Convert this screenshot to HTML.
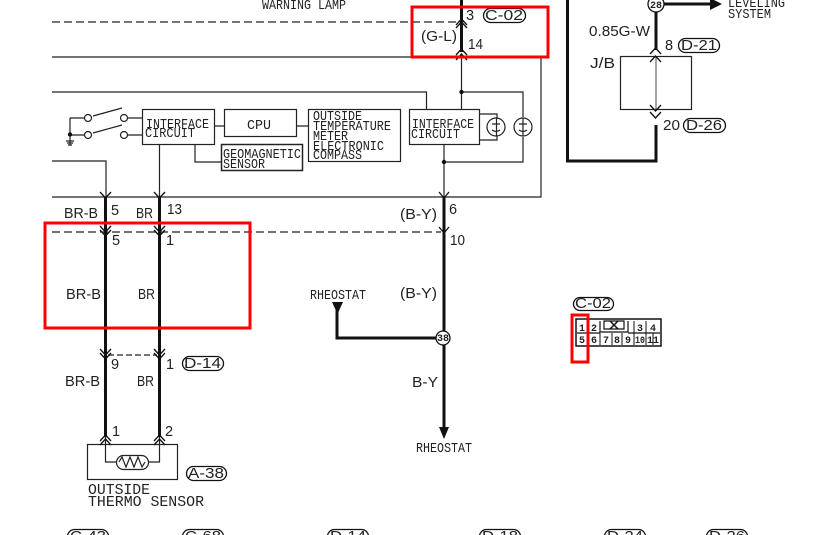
<!DOCTYPE html>
<html><head><meta charset="utf-8"><style>
html,body{margin:0;padding:0;background:#fff;width:823px;height:535px;overflow:hidden}
svg{display:block}
text{font-family:"Liberation Mono",monospace;fill:#222;font-size:15px}
.s{font-family:"Liberation Sans",sans-serif;font-size:14.500px}
.t{font-size:13.500px}
.b{font-size:10px;font-weight:bold}
</style></head><body>
<svg width="823" height="535" viewBox="0 0 823 535" xmlns="http://www.w3.org/2000/svg">
<g fill="none" stroke="#222" stroke-width="1.2">
<path d="M52 22H458" stroke-dasharray="8 4"/>
<path d="M52 232H441" stroke-dasharray="8 4"/>
<path d="M108 355H157" stroke-dasharray="6 3"/>
<path d="M52 57H461M52 92H426.500V109M52 161H106V197M52 197H541V57H461"/>
<path d="M159.500 144V197M195 144V162H221M214 126H224M296 126H308M444 144V197"/>
<path d="M461.500 55V109M461.500 92H523V117M523 137V162H444M479 114H497V118M479 140H497V136"/>
<rect x="142.500" y="109.500" width="72" height="35"/>
<rect x="224.500" y="109.500" width="72" height="27"/>
<rect x="308.500" y="109.500" width="92" height="52"/>
<rect x="221.500" y="144.500" width="81" height="26" stroke-width="1.500"/>
<rect x="409.500" y="109.500" width="70" height="35"/>
<circle cx="496" cy="127" r="9"/><circle cx="523" cy="127" r="9"/>
<path d="M496.500 118V136M523 118V136M492 124H500M519 124H527M492 130Q496 133 500 130M519 130Q523 133 527 130"/>
<path d="M70 118V145M70 118H84.500M70 135H84.500M128 118H142M128 135H142M93 116L122 108M93 133L122 125M66 141H74M67 143H73M68 145H72"/>
<circle cx="88" cy="118" r="3.500"/><circle cx="88" cy="135" r="3.500"/><circle cx="124" cy="118" r="3.500"/><circle cx="124" cy="135" r="3.500"/>
<rect x="620.500" y="56.500" width="71" height="53"/>
<path d="M656 56V109" stroke="#666"/>
<rect x="87.500" y="444.500" width="90" height="35"/>
<path d="M105.500 437V462H116M149 462H159.500V437"/>
<rect x="116.500" y="455.500" width="32" height="14" rx="7"/>
<path d="M119 462L122 457L126 467L130 457L134 467L138 457L142 467L145 462"/>
</g>
<g fill="none" stroke="#111" stroke-width="3">
<path d="M105.500 197V437M159.500 197V437"/>
<path d="M444 197V430M337 310V338H436"/>
<path d="M567.500 0V161H656V125"/>
<path d="M656 12V50M664 4H712"/>
<path d="M461.500 0V52"/>
</g>
<g fill="#111" stroke="none">
<path d="M439 427H449L444 439ZM332 302H343L337.500 314ZM710 -2L722 4L710 10Z"/>
<circle cx="70" cy="134.500" r="2.200"/><circle cx="461.500" cy="92" r="2.200"/><circle cx="444" cy="162" r="2.200"/>
</g>
<g fill="none" stroke="#111" stroke-width="1.300">
<path d="M100 192L105.500 198L111 192M154 192L159.500 198L165 192M439 192L444 198L449 192"/>
<path d="M100 226L105.500 232L111 226M100 230L105.500 236L111 230M154 226L159.500 232L165 226M154 230L159.500 236L165 230M439 227L444 233L449 227"/>
<path d="M100 349L105.500 355L111 349M100 353L105.500 359L111 353M154 349L159.500 355L165 349M154 353L159.500 359L165 353"/>
<path d="M100 441L105.500 435L111 441M100 445L105.500 439L111 445M154 441L159.500 435L165 441M154 445L159.500 439L165 445"/>
<path d="M456 25L461.500 19L467 25M456 28L461.500 22L467 28M456 55L461.500 49L467 55M456 60L461.500 54L467 60"/>
<path d="M650 54L655.500 48L661 54M650 62L655.500 56L661 62M650 105L655.500 111L661 105M650 112L655.500 118L661 112"/>
</g>
<g fill="#fff" stroke="#111" stroke-width="1.300">
<circle cx="656" cy="4" r="8"/><circle cx="443" cy="338" r="7"/>
<rect x="483.500" y="8.500" width="42" height="14" rx="7"/>
<rect x="678.500" y="38.500" width="41" height="14" rx="7"/>
<rect x="683.500" y="118.500" width="42" height="14" rx="7"/>
<rect x="182.500" y="356.500" width="41" height="14" rx="7"/>
<rect x="186.500" y="466.500" width="40" height="14" rx="7"/>
<rect x="573.500" y="297.500" width="40" height="13" rx="6.500"/>
<rect x="67.500" y="529.500" width="41" height="14" rx="7"/>
<rect x="182.500" y="529.500" width="41" height="14" rx="7"/>
<rect x="327.500" y="529.500" width="41" height="14" rx="7"/>
<rect x="479.500" y="529.500" width="41" height="14" rx="7"/>
<rect x="604.500" y="529.500" width="41" height="14" rx="7"/>
<rect x="706.500" y="529.500" width="41" height="14" rx="7"/>
</g>
<g>
<rect x="576" y="319" width="85" height="27" fill="#fff" stroke="#111" stroke-width="1.500"/>
<path d="M577 333H600M628 333H660M600 321V332H628V321M604 321H624V329H604Z" fill="none" stroke="#111" stroke-width="1.200"/>
<path d="M588 321V345M600 333V345M612 333V345M622 333V345M634 333V345M646 321V345M634 321V333M653 333V345" fill="none" stroke="#111" stroke-width="1"/>
<path d="M610 321L618 329M618 321L610 329" stroke="#111" stroke-width="1.500"/>
</g>
<g>
<text x="262" y="9" class="t" textLength="84" lengthAdjust="spacingAndGlyphs">WARNING LAMP</text>
<text x="466" y="20" class="s">3</text>
<text x="485" y="20" class="s" textLength="38" lengthAdjust="spacingAndGlyphs">C-02</text>
<text x="421" y="41" class="s" textLength="36" lengthAdjust="spacingAndGlyphs">(G-L)</text>
<text x="468" y="49" class="s" textLength="15" lengthAdjust="spacingAndGlyphs">14</text>
<text x="589" y="36" class="s" textLength="61" lengthAdjust="spacingAndGlyphs">0.85G-W</text>
<text x="665" y="50" class="s">8</text>
<text x="681" y="50" class="s" textLength="36" lengthAdjust="spacingAndGlyphs">D-21</text>
<text x="590" y="68" class="s" textLength="25" lengthAdjust="spacingAndGlyphs">J/B</text>
<text x="663" y="130" class="s" textLength="17" lengthAdjust="spacingAndGlyphs">20</text>
<text x="686" y="130" class="s" textLength="36" lengthAdjust="spacingAndGlyphs">D-26</text>
<text x="728" y="7" class="t" textLength="57" lengthAdjust="spacingAndGlyphs">LEVELING</text>
<text x="728" y="18" class="t" textLength="43" lengthAdjust="spacingAndGlyphs">SYSTEM</text>
<text x="146" y="128" class="t" textLength="63" lengthAdjust="spacingAndGlyphs">INTERFACE</text>
<text x="145" y="137" class="t" textLength="50" lengthAdjust="spacingAndGlyphs">CIRCUIT</text>
<text x="247" y="129" class="t" textLength="24" lengthAdjust="spacingAndGlyphs">CPU</text>
<text x="313" y="120" class="t" textLength="49" lengthAdjust="spacingAndGlyphs">OUTSIDE</text>
<text x="313" y="130" class="t" textLength="78" lengthAdjust="spacingAndGlyphs">TEMPERATURE</text>
<text x="313" y="140" class="t" textLength="35" lengthAdjust="spacingAndGlyphs">METER</text>
<text x="313" y="150" class="t" textLength="71" lengthAdjust="spacingAndGlyphs">ELECTRONIC</text>
<text x="313" y="159" class="t" textLength="49" lengthAdjust="spacingAndGlyphs">COMPASS</text>
<text x="412" y="128" class="t" textLength="62" lengthAdjust="spacingAndGlyphs">INTERFACE</text>
<text x="411" y="138" class="t" textLength="49" lengthAdjust="spacingAndGlyphs">CIRCUIT</text>
<text x="223" y="158" class="t" textLength="78" lengthAdjust="spacingAndGlyphs">GEOMAGNETIC</text>
<text x="223" y="168" class="t" textLength="42" lengthAdjust="spacingAndGlyphs">SENSOR</text>
<text x="64" y="218" class="s" textLength="34" lengthAdjust="spacingAndGlyphs">BR-B</text>
<text x="111" y="215" class="s">5</text>
<text x="136" y="218" class="s" textLength="17" lengthAdjust="spacingAndGlyphs">BR</text>
<text x="167" y="214" class="s" textLength="15" lengthAdjust="spacingAndGlyphs">13</text>
<text x="400" y="219" class="s" textLength="37" lengthAdjust="spacingAndGlyphs">(B-Y)</text>
<text x="449" y="214" class="s">6</text>
<text x="112" y="245" class="s">5</text>
<text x="166" y="245" class="s">1</text>
<text x="450" y="245" class="s" textLength="15" lengthAdjust="spacingAndGlyphs">10</text>
<text x="66" y="299" class="s" textLength="35" lengthAdjust="spacingAndGlyphs">BR-B</text>
<text x="138" y="299" class="s" textLength="17" lengthAdjust="spacingAndGlyphs">BR</text>
<text x="310" y="299" class="t" textLength="56" lengthAdjust="spacingAndGlyphs">RHEOSTAT</text>
<text x="400" y="298" class="s" textLength="37" lengthAdjust="spacingAndGlyphs">(B-Y)</text>
<text x="111" y="369" class="s">9</text>
<text x="166" y="369" class="s">1</text>
<text x="184" y="368" class="s" textLength="37" lengthAdjust="spacingAndGlyphs">D-14</text>
<text x="65" y="386" class="s" textLength="35" lengthAdjust="spacingAndGlyphs">BR-B</text>
<text x="137" y="386" class="s" textLength="17" lengthAdjust="spacingAndGlyphs">BR</text>
<text x="412" y="387" class="s" textLength="26" lengthAdjust="spacingAndGlyphs">B-Y</text>
<text x="112" y="436" class="s">1</text>
<text x="165" y="436" class="s">2</text>
<text x="188" y="478" class="s" textLength="36" lengthAdjust="spacingAndGlyphs">A-38</text>
<text x="88" y="494" textLength="62" lengthAdjust="spacingAndGlyphs">OUTSIDE</text>
<text x="88" y="506" textLength="116" lengthAdjust="spacingAndGlyphs">THERMO SENSOR</text>
<text x="416" y="452" class="t" textLength="56" lengthAdjust="spacingAndGlyphs">RHEOSTAT</text>
<text x="575" y="308" class="s" textLength="36" lengthAdjust="spacingAndGlyphs">C-02</text>
<text x="650" y="8" class="b" textLength="12" lengthAdjust="spacingAndGlyphs">28</text>
<text x="437" y="341" class="b" textLength="12" lengthAdjust="spacingAndGlyphs">38</text>
<text x="579" y="331" class="b">1</text>
<text x="591" y="331" class="b">2</text>
<text x="637" y="331" class="b">3</text>
<text x="650" y="331" class="b">4</text>
<text x="579" y="343" class="b">5</text>
<text x="591" y="343" class="b">6</text>
<text x="603" y="343" class="b">7</text>
<text x="614" y="343" class="b">8</text>
<text x="625" y="343" class="b">9</text>
<text x="635" y="343" class="b" textLength="10" lengthAdjust="spacingAndGlyphs">10</text>
<text x="647" y="343" class="b" textLength="12" lengthAdjust="spacingAndGlyphs">11</text>
<text x="70" y="541" class="s" textLength="36" lengthAdjust="spacingAndGlyphs">C-43</text>
<text x="185" y="541" class="s" textLength="36" lengthAdjust="spacingAndGlyphs">C-68</text>
<text x="330" y="541" class="s" textLength="36" lengthAdjust="spacingAndGlyphs">D-14</text>
<text x="482" y="541" class="s" textLength="36" lengthAdjust="spacingAndGlyphs">D-18</text>
<text x="607" y="541" class="s" textLength="36" lengthAdjust="spacingAndGlyphs">D-24</text>
<text x="709" y="541" class="s" textLength="36" lengthAdjust="spacingAndGlyphs">D-26</text>
</g>
<g fill="none" stroke="#f00" stroke-width="3">
<rect x="412" y="7" width="136" height="50"/>
<rect x="45" y="223" width="205" height="105"/>
<rect x="572" y="315" width="16" height="47"/>
</g>
</svg>
</body></html>
